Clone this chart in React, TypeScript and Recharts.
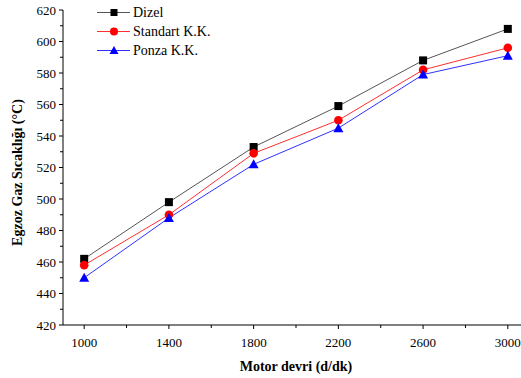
import React from 'react';
import { LineChart, Line, XAxis, YAxis, Legend } from 'recharts';

const rpm = [1000, 1400, 1800, 2200, 2600, 3000];
const dizel = [462, 498, 533, 559, 588, 608];
const standart = [458, 490, 529, 550, 582, 596];
const ponza = [450, 488, 522, 545, 579, 591];

const xTicks = [1000, 1200, 1400, 1600, 1800, 2000, 2200, 2400, 2600, 2800, 3000];
const xMajor = [1000, 1400, 1800, 2200, 2600, 3000];
const yTicks = [420, 430, 440, 450, 460, 470, 480, 490, 500, 510, 520, 530, 540, 550, 560, 570, 580, 590, 600, 610, 620];

const seriesNames = ['Dizel', 'Standart K.K.', 'Ponza K.K.'];
const lineColors = ['#555555', '#ff3030', '#3030ff'];

const data = rpm.map((r, i) => ({ rpm: r, dizel: dizel[i], standart: standart[i], ponza: ponza[i] }));

const FONT = '"Liberation Serif", "Times New Roman", serif';

const XTick = (props: any) => {
  const { x, y, payload } = props;
  const major = xMajor.includes(payload.value);
  return (
    <g>
      <line x1={x} x2={x} y1={y} y2={y + (major ? 4 : 3)} stroke="#000" strokeWidth={1} />
      {major && (
        <text x={x} y={y + 17} dy="0.35em" textAnchor="middle" fontFamily={FONT} fontSize={13} fill="#000">
          {payload.value}
        </text>
      )}
    </g>
  );
};

const YTick = (props: any) => {
  const { x, y, payload } = props;
  const major = payload.value % 20 === 0;
  return (
    <g>
      <line x1={x} x2={x - (major ? 4 : 3)} y1={y} y2={y} stroke="#000" strokeWidth={1} />
      {major && (
        <text x={x - 7} y={y} dy="0.35em" textAnchor="end" fontFamily={FONT} fontSize={13} fill="#000">
          {payload.value}
        </text>
      )}
    </g>
  );
};

const Square = (props: any) => {
  const { cx, cy } = props;
  if (cx == null || cy == null) return null;
  return <rect x={cx - 4} y={cy - 4} width={8} height={8} fill="#000" />;
};
const Circle = (props: any) => {
  const { cx, cy } = props;
  if (cx == null || cy == null) return null;
  return <circle cx={cx} cy={cy} r={4.3} fill="#ff0000" />;
};
const Tri = (props: any) => {
  const { cx, cy } = props;
  if (cx == null || cy == null) return null;
  return <path d={`M${cx},${cy - 5} L${cx + 5},${cy + 4} L${cx - 5},${cy + 4} Z`} fill="#0000ff" />;
};

const markers = [
  (cx: number, cy: number) => <rect x={cx - 3.5} y={cy - 3.5} width={7} height={7} fill="#000" />,
  (cx: number, cy: number) => <circle cx={cx} cy={cy} r={4} fill="#ff0000" />,
  (cx: number, cy: number) => <path d={`M${cx},${cy - 4.5} L${cx + 4.5},${cy + 3.5} L${cx - 4.5},${cy + 3.5} Z`} fill="#0000ff" />,
];

const LegendContent = () => (
  <svg width={240} height={62} style={{ display: 'block', overflow: 'visible' }}>
    {seriesNames.map((n, i) => {
      const y = 12.5 + i * 19;
      return (
        <g key={n}>
          <line x1={97} x2={130} y1={y} y2={y} stroke={lineColors[i]} strokeWidth={1} />
          {markers[i](114, y)}
          <text x={133} y={y} dy="0.35em" fontFamily={FONT} fontSize={14} fill="#000">
            {n}
          </text>
        </g>
      );
    })}
  </svg>
);

export default function App() {
  return (
    <div style={{ position: 'absolute', left: 0, top: 0, width: 521, height: 378, overflow: 'hidden', background: '#fff' }}>
      <LineChart width={545} height={378} data={data} margin={{ top: 10, right: 16, bottom: 0, left: 0 }}>
        <XAxis
          dataKey="rpm"
          type="number"
          domain={[900, 3100]}
          ticks={xTicks}
          interval={0}
          tickSize={0}
          tickMargin={0}
          tickLine={false}
          tick={<XTick />}
          height={53}
          axisLine={{ stroke: '#000', strokeWidth: 1 }}
          label={{ value: 'Motor devri (d/dk)', position: 'insideBottom', offset: 7, style: { fontFamily: FONT, fontSize: 14, fontWeight: 'bold', fill: '#000' } }}
        />
        <YAxis
          type="number"
          domain={[420, 620]}
          ticks={yTicks}
          interval={0}
          tickSize={0}
          tickMargin={0}
          tickLine={false}
          tick={<YTick />}
          width={63}
          axisLine={{ stroke: '#000', strokeWidth: 1 }}
          label={{ value: 'Egzoz Gaz Sıcaklığı (°C)', angle: -90, position: 'insideLeft', offset: 17, dy: 5, style: { fontFamily: FONT, fontSize: 14, fontWeight: 'bold', fill: '#000', textAnchor: 'middle' } }}
        />
        <Legend
          layout="vertical"
          align="center"
          verticalAlign="middle"
          content={<LegendContent />}
          wrapperStyle={{ left: 0, top: 0, width: 'auto', height: 'auto' }}
        />
        <Line dataKey="dizel" name={seriesNames[0]} stroke={lineColors[0]} strokeWidth={1} dot={<Square />} activeDot={false} isAnimationActive={false} />
        <Line dataKey="standart" name={seriesNames[1]} stroke={lineColors[1]} strokeWidth={1} dot={<Circle />} activeDot={false} isAnimationActive={false} />
        <Line dataKey="ponza" name={seriesNames[2]} stroke={lineColors[2]} strokeWidth={1} dot={<Tri />} activeDot={false} isAnimationActive={false} />
      </LineChart>
    </div>
  );
}
